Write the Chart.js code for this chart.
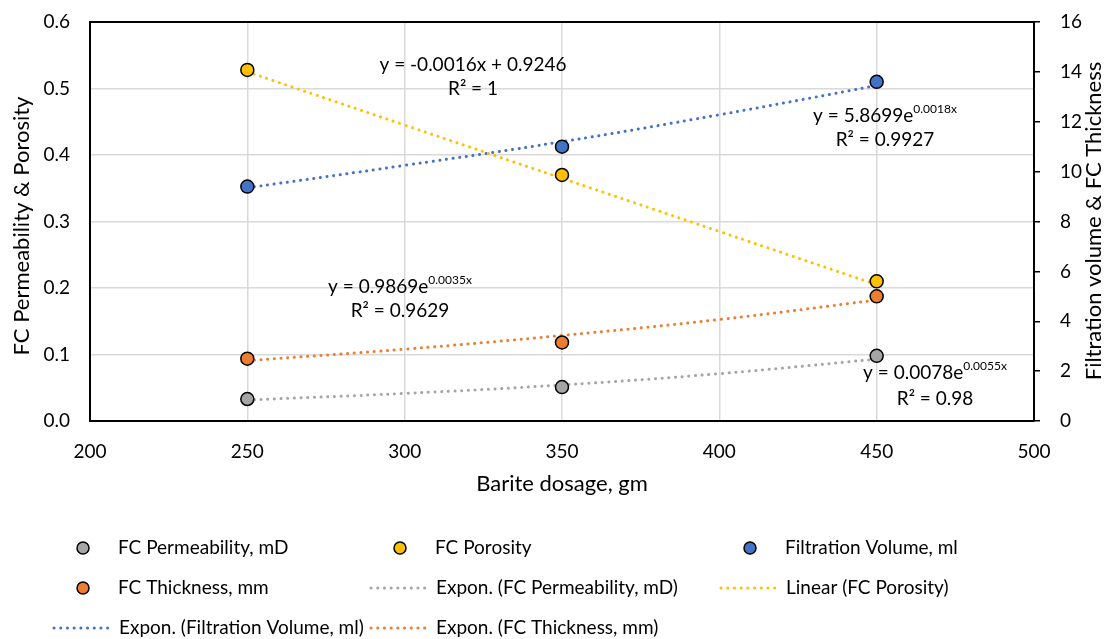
<!DOCTYPE html>
<html>
<head>
<meta charset="utf-8">
<script src="https://cdn.jsdelivr.net/npm/chart.js@4"></script>
<style>
  html, body { margin: 0; padding: 0; background: #fff; }
  #wrap { width: 1107px; height: 639px; position: relative; }
</style>
</head>
<body>
<div id="wrap"><canvas id="myChart"></canvas></div>
<script>
// values
const dosage = [250, 350, 450];
const permeability = [0.033, 0.051, 0.098];
const porosity = [0.528, 0.370, 0.210];
const filtration = [9.4, 11.0, 13.6];
const thickness = [2.5, 3.15, 5.0];

// trendlines as drawn
const trendX = [250, 300, 350, 400, 450];
const permTrend = [0.0316, 0.0415, 0.0542, 0.0712, 0.093];
const porTrend = [0.525, 0.445, 0.365, 0.285, 0.205];
const filtTrend = [9.35, 10.25, 11.2, 12.28, 13.45];
const thickTrend = [2.42, 2.88, 3.43, 4.07, 4.85];

const xTicks = [200, 250, 300, 350, 400, 450, 500];
const leftTicks = [0, 0.1, 0.2, 0.3, 0.4, 0.5, 0.6];
const rightTicks = [0, 2, 4, 6, 8, 10, 12, 14, 16];

const seriesNames = ['FC Permeability, mD', 'FC Porosity', 'Filtration Volume, ml', 'FC Thickness, mm'];
const trendNames = ['Expon. (FC Permeability, mD)', 'Linear (FC Porosity)', 'Expon. (Filtration Volume, ml)', 'Expon. (FC Thickness, mm)'];
const colors = ['#a5a5a5', '#ffc000', '#4472c4', '#ed7d31'];

// trend equations [main text, superscript, r squared]
const equations = [
  ['y = 0.0078e', '0.0055x', 'R\u00b2 = 0.98'],
  ['y = -0.0016x + 0.9246', '', 'R\u00b2 = 1'],
  ['y = 5.8699e', '0.0018x', 'R\u00b2 = 0.9927'],
  ['y = 0.9869e', '0.0035x', 'R\u00b2 = 0.9629']
];

const FONT = 'Lato, "Open Sans", sans-serif';

function pts(xs, ys) {
  return xs.map((x, i) => ({x: x, y: ys[i]}));
}

function pointSet(i, data, axis) {
  return {
    type: 'scatter', label: seriesNames[i], data: pts(dosage, data), yAxisID: axis,
    backgroundColor: colors[i], borderColor: '#000', borderWidth: 1.5,
    pointRadius: 6.5, pointHoverRadius: 6.5, showLine: false, order: 0
  };
}

function trendSet(i, data, axis) {
  return {
    type: 'line', label: trendNames[i], data: pts(trendX, data), yAxisID: axis,
    borderColor: colors[i], borderWidth: 3, borderDash: [0.1, 6.6], borderCapStyle: 'round',
    pointRadius: 0, fill: false, tension: 0.4, order: 1
  };
}

const extras = {
  id: 'extras',
  beforeDatasetsDraw(chart) {
    const ctx = chart.ctx, a = chart.chartArea;
    ctx.save();
    ctx.strokeStyle = '#000';
    ctx.lineWidth = 2;
    ctx.beginPath();
    ctx.moveTo(a.left, a.top);
    ctx.lineTo(a.right, a.top);
    ctx.stroke();
    ctx.restore();
  },
  afterDraw(chart) {
    const ctx = chart.ctx;
    ctx.save();
    ctx.fillStyle = '#000';
    ctx.textBaseline = 'middle';

    // equations
    const eqPos = [[935, 373, 399], [473, 65, 89], [885, 116, 140], [400, 287, 311]];
    equations.forEach((e, i) => {
      const p = eqPos[i];
      ctx.font = '19px ' + FONT;
      const w1 = ctx.measureText(e[0]).width;
      ctx.font = '12px ' + FONT;
      const w2 = e[1] ? ctx.measureText(e[1]).width : 0;
      let x = p[0] - (w1 + w2) / 2;
      ctx.textAlign = 'left';
      ctx.font = '19px ' + FONT;
      ctx.fillText(e[0], x, p[1]);
      if (e[1]) {
        ctx.font = '12px ' + FONT;
        ctx.fillText(e[1], x + w1, p[1] - 7);
      }
      ctx.font = '19px ' + FONT;
      ctx.textAlign = 'center';
      ctx.fillText(e[2], p[0], p[2]);
    });

    // axis titles
    ctx.font = '22px ' + FONT;
    ctx.textAlign = 'center';
    ctx.fillText('Barite dosage, gm', 562, 484);
    ctx.save();
    ctx.translate(22, 226);
    ctx.rotate(-Math.PI / 2);
    ctx.fillText('FC Permeability & Porosity', 0, 0);
    ctx.restore();
    ctx.save();
    ctx.translate(1094, 221);
    ctx.rotate(-Math.PI / 2);
    ctx.fillText('Filtration volume & FC Thickness', 0, 0);
    ctx.restore();

    // legend
    const items = [
      [0, 'pt', 83, 548], [1, 'pt', 400, 548], [2, 'pt', 750, 548],
      [3, 'pt', 83, 588], [0, 'ln', 371, 588], [1, 'ln', 721, 588],
      [2, 'ln', 54, 628], [3, 'ln', 371, 628]
    ];
    ctx.textAlign = 'left';
    ctx.font = '19px ' + FONT;
    items.forEach(it => {
      const c = colors[it[0]];
      if (it[1] === 'pt') {
        ctx.beginPath();
        ctx.arc(it[2], it[3], 6, 0, Math.PI * 2);
        ctx.fillStyle = c;
        ctx.fill();
        ctx.lineWidth = 1.5;
        ctx.strokeStyle = '#000';
        ctx.stroke();
        ctx.fillStyle = '#000';
        ctx.fillText(seriesNames[it[0]], it[2] + 35, it[3]);
      } else {
        ctx.beginPath();
        ctx.setLineDash([0.1, 6.6]);
        ctx.lineCap = 'round';
        ctx.lineWidth = 3;
        ctx.strokeStyle = c;
        ctx.moveTo(it[2], it[3]);
        ctx.lineTo(it[2] + 57, it[3]);
        ctx.stroke();
        ctx.setLineDash([]);
        ctx.fillStyle = '#000';
        ctx.fillText(trendNames[it[0]], it[2] + 65, it[3]);
      }
    });
    ctx.restore();
  }
};

const config = {
  data: {
    datasets: [
      pointSet(0, permeability, 'y'),
      pointSet(1, porosity, 'y'),
      pointSet(2, filtration, 'y1'),
      pointSet(3, thickness, 'y1'),
      trendSet(0, permTrend, 'y'),
      trendSet(1, porTrend, 'y'),
      trendSet(2, filtTrend, 'y1'),
      trendSet(3, thickTrend, 'y1')
    ]
  },
  options: {
    responsive: true,
    maintainAspectRatio: false,
    animation: false,
    devicePixelRatio: 1,
    layout: { padding: { top: 22, bottom: 158, left: 0, right: 0 } },
    plugins: { legend: { display: false }, tooltip: { enabled: false } },
    scales: {
      x: {
        type: 'linear', min: 200, max: 500,
        afterBuildTicks: s => { s.ticks = xTicks.map(v => ({value: v})); },
        afterFit: s => { s.height = 60; s.paddingLeft = 0; s.paddingRight = 0; },
        grid: { color: '#d9d9d9', lineWidth: 1.5, drawTicks: false },
        border: { color: '#000', width: 2 },
        ticks: { color: '#000', font: { family: FONT, size: 19 }, padding: 19 }
      },
      y: {
        position: 'left', min: 0, max: 0.6,
        afterBuildTicks: s => { s.ticks = leftTicks.map(v => ({value: v})); },
        afterFit: s => { s.width = 90; s.paddingTop = 0; s.paddingBottom = 0; },
        grid: { color: '#d9d9d9', lineWidth: 1.5, drawTicks: false },
        border: { color: '#000', width: 2 },
        ticks: { color: '#000', font: { family: FONT, size: 19 }, padding: 20,
          callback: v => v.toFixed(1) }
      },
      y1: {
        position: 'right', min: 0, max: 16,
        afterBuildTicks: s => { s.ticks = rightTicks.map(v => ({value: v})); },
        afterFit: s => { s.width = 73; s.paddingTop = 0; s.paddingBottom = 0; },
        grid: { drawOnChartArea: false, color: '#000', lineWidth: 1.5, tickLength: 6 },
        border: { color: '#000', width: 2 },
        ticks: { color: '#000', font: { family: FONT, size: 19 }, padding: 20 }
      }
    }
  },
  plugins: [extras]
};

const myChart = new Chart(document.getElementById('myChart'), config);
</script>
</body>
</html>
